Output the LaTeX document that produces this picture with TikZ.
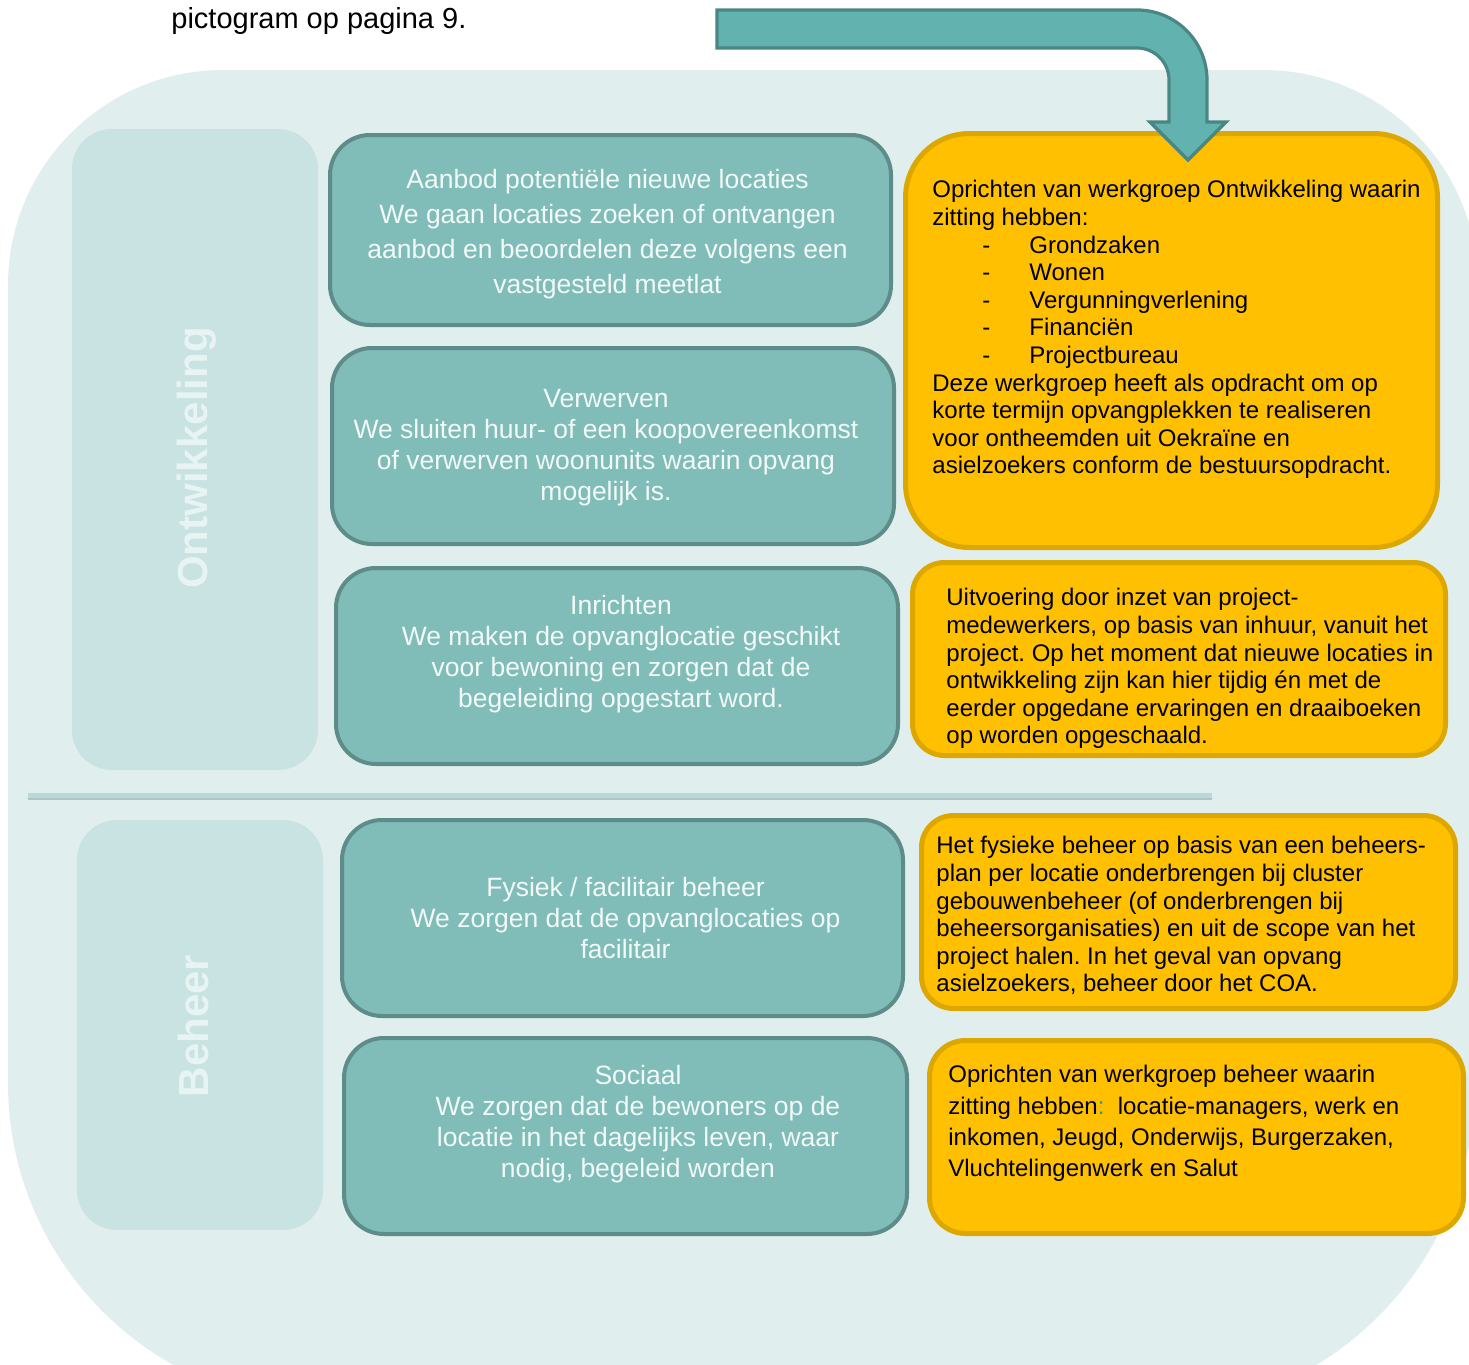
\documentclass[tikz,border=0pt]{standalone}
\usepackage{fontspec}
\setmainfont{Liberation Sans}
\definecolor{bgc}{HTML}{E0EFEE}
\definecolor{labfill}{HTML}{C9E3E2}
\definecolor{labtxt}{HTML}{E8F3F3}
\definecolor{tealfill}{HTML}{80BDB9}
\definecolor{tealborder}{HTML}{5E8C89}
\definecolor{tealtxt}{HTML}{F2F9F8}
\definecolor{orfill}{HTML}{FEC000}
\definecolor{orborder}{HTML}{DBA700}
\definecolor{arrfill}{HTML}{62B2B0}
\definecolor{arrborder}{HTML}{4A8684}
\definecolor{sepc}{HTML}{B7DAD9}
\definecolor{sepshad}{HTML}{9FB2B2}
\definecolor{colonc}{HTML}{2E9A96}
\newcommand{\orbul}[1]{\strut\makebox[48.5pt][l]{\hspace*{25pt}-}#1}
\frenchspacing
\begin{document}
\begin{tikzpicture}[x=0.5pt,y=-0.5pt,
  tealbox/.style={draw=tealborder,fill=tealfill,line width=2pt,rounded corners=20pt,inner sep=0pt},
  orangebox/.style={draw=orborder,fill=orfill,line width=2.5pt,inner sep=0pt},
  labelbox/.style={fill=labfill,rounded corners=20pt,inner sep=0pt,minimum width=123pt},
  tealtext/.style={text=tealtxt,align=center,inner sep=0pt,font=\fontsize{13.25}{15.5}\selectfont},
  ortext/.style={text=black,align=left,anchor=north west,inner sep=0pt,font=\fontsize{12}{13.8}\selectfont},
  vlabel/.style={text=labtxt,font=\bfseries\fontsize{21}{25}\selectfont,rotate=90,inner sep=0pt},
  arrowsty/.style={fill=arrfill,draw=arrborder,line width=1.6pt,line join=miter},
  sepline/.style={draw=sepc,line width=2.5pt},
  sepshadow/.style={draw=sepshad,line width=2pt,opacity=0.7}
]
\useasboundingbox (0,0) rectangle (1469,1365);
\clip (0,0) rectangle (1469,1365);
% background
\fill[bgc] (8,285) arc[start angle=180,end angle=270,radius=215] -- (1263,70)
  arc[start angle=270,end angle=360,radius=215] -- (1475,1083)
  arc[start angle=0,end angle=90,radius=330] -- (331,1406)
  arc[start angle=90,end angle=180,radius=323] -- cycle;
% label boxes
\node[labelbox,minimum height=320.5pt] (lab1) at (195,449.5) {};
\node[labelbox,minimum height=205pt] (lab2) at (200,1025) {};
\node[vlabel] (lab1t) at (197,458) {Ontwikkeling};
\node[vlabel] (lab2t) at (193,1026) {Beheer};
% separator
\coordinate (sepL) at (28,795);
\coordinate (sepR) at (1212,795);
\draw[sepshadow] ([yshift=-1.6pt]sepL) -- ([yshift=-1.6pt]sepR);
\draw[sepline] (sepL) -- (sepR);
% teal boxes
\node[tealbox,minimum width=280.5pt,minimum height=95pt] (b1) at (610.5,230) {};
\node[tealbox,minimum width=281pt,minimum height=98pt] (b2) at (613,446) {};
\node[tealbox,minimum width=281pt,minimum height=98pt] (b3) at (617,666) {};
\node[tealbox,minimum width=280.5pt,minimum height=98pt] (b4) at (622.5,918) {};
\node[tealbox,minimum width=281.5pt,minimum height=98pt] (b5) at (625.5,1136) {};
\node[tealtext,font=\fontsize{13.25}{17.5}\selectfont] (b1t) at (607.5,234) {\strut Aanbod potentiële nieuwe locaties\\\strut We gaan locaties zoeken of ontvangen\\\strut aanbod en beoordelen deze volgens een\\\strut vastgesteld meetlat};
\node[tealtext] (b2t) at (606,447.5) {\strut Verwerven\\\strut We sluiten huur- of een koopovereenkomst\\\strut of verwerven woonunits waarin opvang\\\strut mogelijk is.};
\node[tealtext] (b3t) at (621,654.5) {\strut Inrichten\\\strut We maken de opvanglocatie geschikt\\\strut voor bewoning en zorgen dat de\\\strut begeleiding opgestart word.};
\node[tealtext] (b4t) at (625.5,921) {\strut Fysiek / facilitair beheer\\\strut We zorgen dat de opvanglocaties op\\\strut facilitair};
\node[tealtext] (b5t) at (638,1124.5) {\strut Sociaal\\\strut We zorgen dat de bewoners op de\\\strut locatie in het dagelijks leven, waar\\\strut nodig, begeleid worden};
% orange boxes
\node[orangebox,rounded corners=32pt,minimum width=266pt,minimum height=207pt] (o1) at (1171.5,340.5) {};
\node[orangebox,rounded corners=16pt,minimum width=266.5pt,minimum height=96.5pt] (o2) at (1179,659) {};
\node[orangebox,rounded corners=16pt,minimum width=267pt,minimum height=96.5pt] (o3) at (1188.5,912) {};
\node[orangebox,rounded corners=18pt,minimum width=267pt,minimum height=96.5pt] (o4) at (1196.5,1137) {};
\node[ortext] (o1t) at (932,178.2) {\strut Oprichten van werkgroep Ontwikkeling waarin\\\strut zitting hebben:\\\orbul{Grondzaken}\\\orbul{Wonen}\\\orbul{Vergunningverlening}\\\orbul{Financiën}\\\orbul{Projectbureau}\\\strut Deze werkgroep heeft als opdracht om op\\\strut korte termijn opvangplekken te realiseren\\\strut voor ontheemden uit Oekraïne en\\\strut asielzoekers conform de bestuursopdracht.};
\node[ortext] (o2t) at (946,586.2) {\strut Uitvoering door inzet van project-\\\strut medewerkers, op basis van inhuur, vanuit het\\\strut project. Op het moment dat nieuwe locaties in\\\strut ontwikkeling zijn kan hier tijdig én met de\\\strut eerder opgedane ervaringen en draaiboeken\\\strut op worden opgeschaald.};
\node[ortext] (o3t) at (936,834.2) {\strut Het fysieke beheer op basis van een beheers-\\\strut plan per locatie onderbrengen bij cluster\\\strut gebouwenbeheer (of onderbrengen bij\\\strut beheersorganisaties) en uit de scope van het\\\strut project halen. In het geval van opvang\\\strut asielzoekers, beheer door het COA.};
\node[ortext,font=\fontsize{12}{15.65}\selectfont] (o4t) at (948,1060.6) {\strut Oprichten van werkgroep beheer waarin\\\strut zitting hebben{\color{colonc}:}\ \ locatie-managers, werk en\\\strut inkomen, Jeugd, Onderwijs, Burgerzaken,\\\strut Vluchtelingenwerk en Salut};
% arrow
\draw[arrowsty] (717,10) -- (1137,10) arc[start angle=270,end angle=360,radius=70] -- (1207,122) -- (1226,122) -- (1188,160) -- (1150,122) -- (1169,122) -- (1169,80) arc[start angle=0,end angle=-90,radius=32] -- (717,48) -- cycle;
% top text
\node[anchor=base west,inner sep=0pt,font=\fontsize{14.5}{17}\selectfont] (top) at (171,28) {pictogram op pagina 9.};
\end{tikzpicture}
\end{document}
